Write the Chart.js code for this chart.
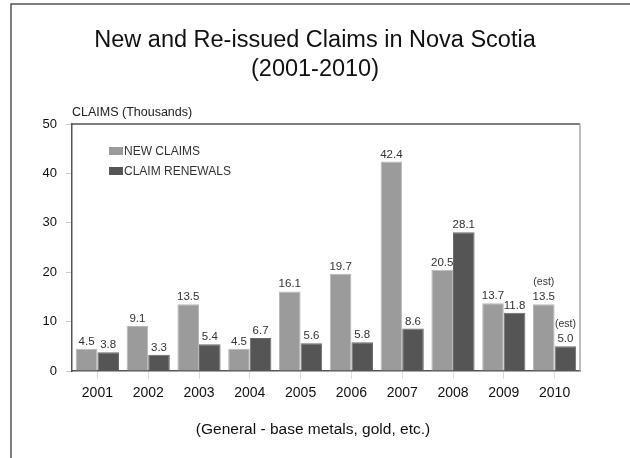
<!DOCTYPE html>
<html>
<head>
<meta charset="utf-8">
<script src="https://cdn.jsdelivr.net/npm/chart.js@4/dist/chart.umd.min.js"></script>
<style>
    html, body { margin: 0; padding: 0; background: #fff; }
    #box { width: 630px; height: 458px; }
</style>
</head>
<body>
<div id="box"><canvas id="graficoClaims"></canvas></div>
<script>
const anos = ["2001", "2002", "2003", "2004", "2005", "2006", "2007", "2008", "2009", "2010"]
const novasClaims = [4.5, 9.1, 13.5, 4.5, 16.1, 19.7, 42.4, 20.5, 13.7, 13.5]
const renovacoes = [3.8, 3.3, 5.4, 6.7, 5.6, 5.8, 8.6, 28.1, 11.8, 5.0]
const estimados = ["2010"]
const yTicks = [0, 10, 20, 30, 40, 50]

const fonte = "'Liberation Sans', Arial, Helvetica, sans-serif"

// desenha moldura, titulo, legenda e rotulos das barras
const extras = {
    id: "extras",
    afterDraw(chart) {
        const ctx = chart.ctx
        const area = chart.chartArea
        ctx.save()

        // moldura externa
        ctx.strokeStyle = "#555"
        ctx.lineWidth = 1.5
        ctx.beginPath()
        ctx.moveTo(11, 458)
        ctx.lineTo(11, 4)
        ctx.lineTo(630, 4)
        ctx.stroke()

        // bordas de cima e direita do grafico
        ctx.strokeStyle = "#555"
        ctx.beginPath()
        ctx.moveTo(area.left, area.top)
        ctx.lineTo(area.right, area.top)
        ctx.stroke()
        ctx.strokeStyle = "#aaa"
        ctx.beginPath()
        ctx.moveTo(area.right, area.top)
        ctx.lineTo(area.right, area.bottom)
        ctx.stroke()

        // titulo
        ctx.fillStyle = "#111"
        ctx.textAlign = "center"
        ctx.textBaseline = "middle"
        ctx.font = "23.5px " + fonte
        ctx.fillText("New and Re-issued Claims in Nova Scotia", 315, 41)
        ctx.fillText("(2001-2010)", 315, 70)

        // legenda de baixo
        ctx.font = "15.5px " + fonte
        ctx.fillText("(General - base metals, gold, etc.)", 313, 430)

        // unidade do eixo y
        ctx.font = "12.5px " + fonte
        ctx.textAlign = "left"
        ctx.fillStyle = "#222"
        ctx.fillText("CLAIMS (Thousands)", area.left, 113)

        // legenda
        ctx.font = "12px " + fonte
        chart.data.datasets.forEach((ds, i) => {
            const y = 151 + i * 20
            ctx.fillStyle = ds.backgroundColor
            ctx.fillRect(109, y - 4, 14, 8)
            ctx.fillStyle = "#333"
            ctx.fillText(ds.label, 124, y + 0.5)
        })

        // rotulos
        ctx.textAlign = "center"
        ctx.textBaseline = "alphabetic"
        chart.data.datasets.forEach((ds, i) => {
            const meta = chart.getDatasetMeta(i)
            meta.data.forEach((bar, j) => {
                ctx.fillStyle = "#333"
                ctx.font = "11.5px " + fonte
                ctx.fillText(ds.data[j].toFixed(1), bar.x, bar.y - 4)
                if (estimados.includes(chart.data.labels[j])) {
                    ctx.font = "10.5px " + fonte
                    ctx.fillText("(est)", bar.x, bar.y - 19)
                }
            })
        })
        ctx.restore()
    }
}

function criarGrafico() {
    const canvas = document.getElementById("graficoClaims")
    new Chart(canvas, {
        type: "bar",
        data: {
            labels: anos,
            datasets: [{
                label: "NEW CLAIMS",
                data: novasClaims,
                backgroundColor: "#9b9b9b",
                borderColor: "#b8b8b8",
                borderWidth: 1,
                categoryPercentage: 0.85,
                barPercentage: 1.0
            }, {
                label: "CLAIM RENEWALS",
                data: renovacoes,
                backgroundColor: "#555555",
                borderColor: "#6a6a6a",
                borderWidth: 1,
                categoryPercentage: 0.85,
                barPercentage: 1.0
            }]
        },
        options: {
            responsive: true,
            maintainAspectRatio: false,
            animation: false,
            layout: {
                padding: { left: 12, right: 50, top: 124, bottom: 0 }
            },
            scales: {
                x: {
                    afterFit: (s) => { s.height = 87 },
                    grid: {
                        offset: false,
                        drawOnChartArea: false,
                        tickLength: 8,
                        color: "#ddd"
                    },
                    border: { color: "#555", width: 1.5 },
                    ticks: {
                        padding: 6,
                        color: "#111",
                        font: { family: fonte, size: 14 }
                    }
                },
                y: {
                    min: 0,
                    max: 50,
                    afterFit: (s) => { s.width = 60 },
                    afterBuildTicks: (s) => { s.ticks = yTicks.map(v => ({ value: v })) },
                    grid: {
                        drawOnChartArea: false,
                        tickLength: 6,
                        color: "#ccc"
                    },
                    border: { color: "#555", width: 1.5 },
                    ticks: {
                        padding: 9,
                        color: "#111",
                        font: { family: fonte, size: 13 }
                    }
                }
            },
            plugins: {
                legend: { display: false },
                title: { display: false },
                tooltip: { enabled: false }
            }
        },
        plugins: [extras]
    })
}

criarGrafico()
</script>
</body>
</html>
